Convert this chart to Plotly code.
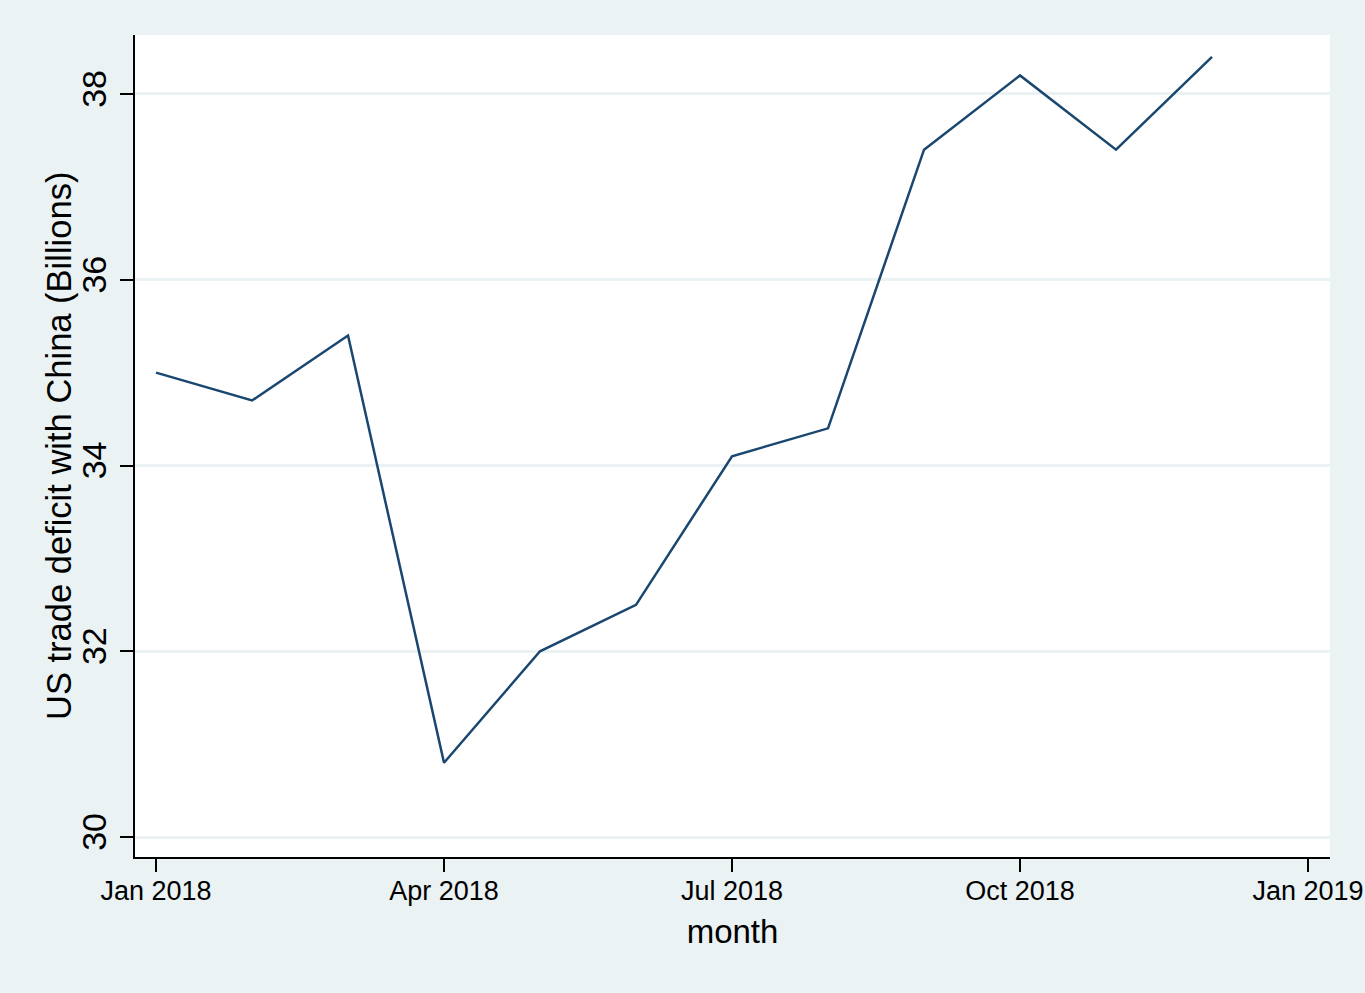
import plotly.graph_objects as go

# Data (monthly US trade deficit with China, billions USD)
months = ["Jan 2018", "Feb 2018", "Mar 2018", "Apr 2018", "May 2018", "Jun 2018",
          "Jul 2018", "Aug 2018", "Sep 2018", "Oct 2018", "Nov 2018", "Dec 2018"]
month_index = list(range(len(months)))
deficit = [35.0, 34.7, 35.4, 30.8, 32.0, 32.5, 34.1, 34.4, 37.4, 38.2, 37.4, 38.4]

x_tick_vals = [0, 3, 6, 9, 12]
x_tick_text = ["Jan 2018", "Apr 2018", "Jul 2018", "Oct 2018", "Jan 2019"]
y_tick_vals = [30, 32, 34, 36, 38]
y_title = "US trade deficit with China (Billions)"

FONT = "Liberation Sans, Arial, Helvetica, sans-serif"
BG = "#EAF2F3"

fig = go.Figure()
fig.add_trace(go.Scatter(
    x=month_index, y=deficit, mode="lines",
    line=dict(color="#1A476F", width=2.5),
    text=months, hoverinfo="text+y",
))

fig.update_layout(
    width=1365, height=993,
    margin=dict(l=135, r=35, t=35, b=136, autoexpand=False),
    paper_bgcolor=BG, plot_bgcolor="white",
    font=dict(family=FONT, color="black"),
    showlegend=False,
)

fig.update_xaxes(
    range=[-0.219, 12.229], automargin=False,
    tickmode="array", tickvals=x_tick_vals, ticktext=x_tick_text,
    tickfont=dict(size=27), ticklabelstandoff=-4,
    ticks="outside", ticklen=13, tickwidth=2, tickcolor="black",
    showline=True, linecolor="black", linewidth=2,
    showgrid=False, zeroline=False,
    title=dict(text="month", font=dict(size=33), standoff=14),
)

fig.update_yaxes(
    range=[29.785, 38.635], automargin=False,
    tickmode="array", tickvals=y_tick_vals,
    tickfont=dict(size=34), tickangle=-90,
    ticks="outside", ticklen=13, tickwidth=2, tickcolor="black",
    showline=True, linecolor="black", linewidth=2,
    showgrid=True, gridcolor=BG, gridwidth=2.5, zeroline=False,
)

fig.add_annotation(
    text=y_title, textangle=-90,
    xref="paper", yref="paper", x=0, y=0.5,
    xanchor="center", yanchor="middle", xshift=-76,
    showarrow=False, font=dict(size=34.5, color="black"),
)

fig.write_html(
    "out.html",
    config={"displayModeBar": False},
    post_script="document.body.style.margin='0';document.body.style.overflow='hidden';",
)
